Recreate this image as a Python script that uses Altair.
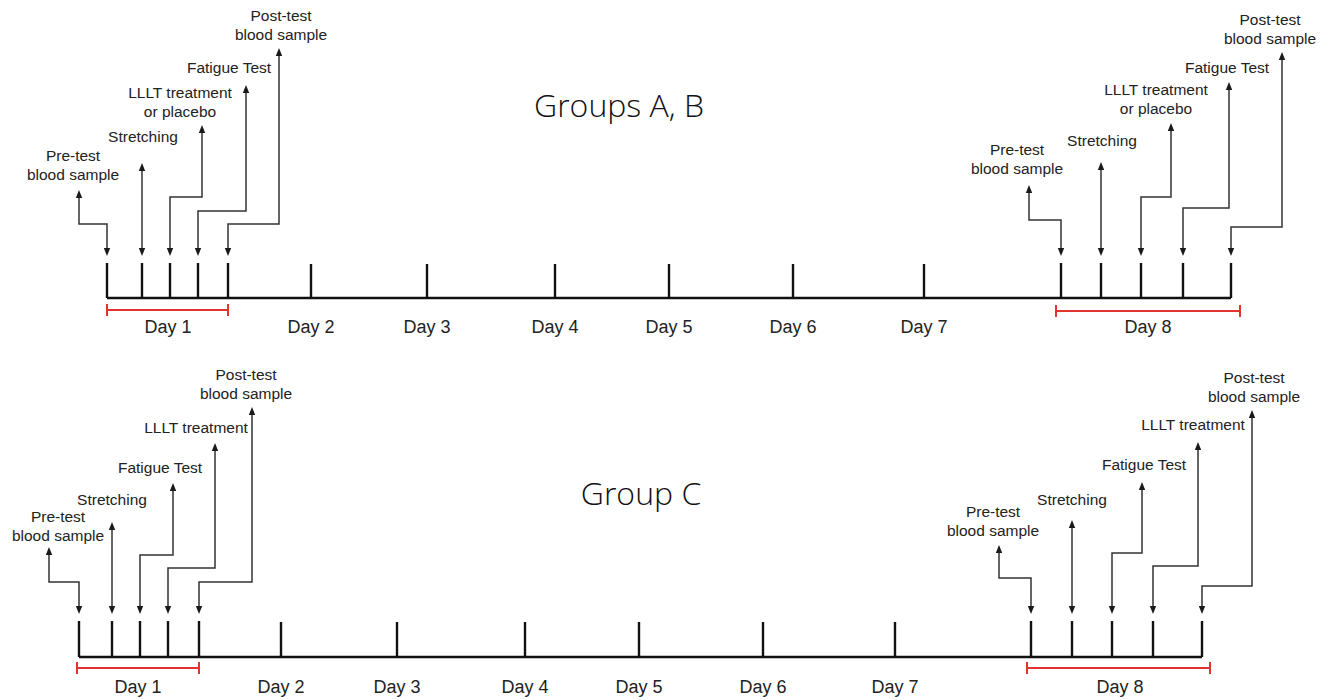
import altair as alt
import pandas as pd

# ---------------- data (pixel positions) ----------------
DAY_NAMES = ["Day 1", "Day 2", "Day 3", "Day 4", "Day 5", "Day 6", "Day 7", "Day 8"]

EVENTS_AB = ["Pre-test\nblood sample", "Stretching", "LLLT treatment\nor placebo",
             "Fatigue Test", "Post-test\nblood sample"]
EVENTS_C = ["Pre-test\nblood sample", "Stretching", "Fatigue Test",
            "LLLT treatment", "Post-test\nblood sample"]

# panel Groups A, B
ab_title = "Groups A, B"
ab_title_pos = (619, 117)
ab_axis_y = 298
ab_tick_top = 263
ab_mid_ticks = [311, 427, 555, 669, 793, 924]           # Day 2 .. Day 7
ab_day_label_x = [168, 311, 427, 555, 669, 793, 924, 1148]
ab_day_label_y = 328
ab_bracket_1 = (107, 228, 310)
ab_bracket_8 = (1056, 1240, 311)

ab1_tick_x = [107, 142, 170, 198, 228]
ab1_elbow_y = [224, None, 197, 211, 224]
ab1_stem_x = [79, 142, 202, 246, 279]
ab1_tip_y = [190, 163, 125, 85, 48]
ab1_label_x = [73, 143, 180, 229, 281]
ab1_label_y = [156, 137, 93, 68, 16]

ab8_tick_x = [1061, 1101, 1141, 1183, 1231]
ab8_elbow_y = [220, None, 197, 208, 227]
ab8_stem_x = [1029, 1101, 1171, 1229, 1282]
ab8_tip_y = [185, 162, 123, 82, 52]
ab8_label_x = [1017, 1102, 1156, 1227, 1270]
ab8_label_y = [150, 141, 90, 68, 20]

# panel Group C
c_title = "Group C"
c_title_pos = (641, 505)
c_axis_y = 657
c_tick_top = 621
c_mid_ticks = [281, 397, 525, 639, 763, 895]
c_day_label_x = [138, 281, 397, 525, 639, 763, 895, 1120]
c_day_label_y = 688
c_bracket_1 = (77, 199, 668)
c_bracket_8 = (1027, 1210, 668)

c1_tick_x = [79, 112, 140, 168, 199]
c1_elbow_y = [582, None, 555, 568, 582]
c1_stem_x = [49, 112, 173, 215, 252]
c1_tip_y = [547, 522, 483, 443, 407]
c1_label_x = [58, 112, 160, 196, 246]
c1_label_y = [517, 500, 468, 428, 375]

c8_tick_x = [1031, 1072, 1112, 1153, 1202]
c8_elbow_y = [578, None, 553, 566, 586]
c8_stem_x = [999, 1072, 1142, 1198, 1252]
c8_tip_y = [545, 520, 482, 442, 410]
c8_label_x = [993, 1072, 1144, 1193, 1254]
c8_label_y = [512, 500, 465, 425, 378]

LINE_H = 19

# ---------------- build tables ----------------
ticks, rules_h, brackets, caps = [], [], [], []
paths, heads_up, heads_down, labels, days, titles = [], [], [], [], [], []

def add_block(tag, names, tick_x, elbow_y, stem_x, tip_y, lab_x, lab_y, axis_y, tick_top):
    for i, name in enumerate(names):
        pid = f"{tag}{i}"
        tx = tick_x[i]
        down_tip = tick_top - 7
        ticks.append({"x": tx, "y": tick_top, "y2": axis_y})
        pts = [(stem_x[i], tip_y[i] + 3)]
        if elbow_y[i] is not None:
            pts += [(stem_x[i], elbow_y[i]), (tx, elbow_y[i])]
        pts += [(tx, down_tip - 3)]
        for k, (px, py) in enumerate(pts):
            paths.append({"id": pid, "ord": k, "x": px, "y": py})
        heads_up.append({"x": stem_x[i], "y": tip_y[i]})
        heads_down.append({"x": tx, "y": down_tip})
        for j, line in enumerate(name.split("\n")):
            labels.append({"x": lab_x[i], "y": lab_y[i] + j * LINE_H, "t": line})

def add_panel(tag, title, tpos, axis_y, tick_top, mid, dlx, dly, b1, b8, blocks):
    titles.append({"x": tpos[0], "y": tpos[1], "t": title})
    for b in blocks:
        add_block(*b, axis_y, tick_top)
    first = blocks[0][2][0]
    last = blocks[-1][2][-1]
    rules_h.append({"x": first, "x2": last, "y": axis_y})
    for m in mid:
        ticks.append({"x": m, "y": tick_top + 1, "y2": axis_y})
    for name, x in zip(DAY_NAMES, dlx):
        days.append({"x": x, "y": dly, "t": name})
    for (xa, xb, yy) in (b1, b8):
        brackets.append({"x": xa, "x2": xb, "y": yy})
        caps.append({"x": xa, "y": yy - 6, "y2": yy + 6})
        caps.append({"x": xb, "y": yy - 6, "y2": yy + 6})

add_panel("ab", ab_title, ab_title_pos, ab_axis_y, ab_tick_top, ab_mid_ticks,
          ab_day_label_x, ab_day_label_y, ab_bracket_1, ab_bracket_8,
          [("ab1", EVENTS_AB, ab1_tick_x, ab1_elbow_y, ab1_stem_x, ab1_tip_y, ab1_label_x, ab1_label_y),
           ("ab8", EVENTS_AB, ab8_tick_x, ab8_elbow_y, ab8_stem_x, ab8_tip_y, ab8_label_x, ab8_label_y)])
add_panel("c", c_title, c_title_pos, c_axis_y, c_tick_top, c_mid_ticks,
          c_day_label_x, c_day_label_y, c_bracket_1, c_bracket_8,
          [("c1", EVENTS_C, c1_tick_x, c1_elbow_y, c1_stem_x, c1_tip_y, c1_label_x, c1_label_y),
           ("c8", EVENTS_C, c8_tick_x, c8_elbow_y, c8_stem_x, c8_tip_y, c8_label_x, c8_label_y)])

# ---------------- chart ----------------
XS = alt.Scale(domain=[8, 1321], nice=False, zero=False)
YS = alt.Scale(domain=[8, 700], nice=False, zero=False, reverse=True)
X = lambda f="x": alt.X(f"{f}:Q", scale=XS, axis=None)
Y = lambda f="y": alt.Y(f"{f}:Q", scale=YS, axis=None)

LABEL_FONT = "Liberation Sans"
INK = "#222222"
RED = "#e0342c"

tick_layer = alt.Chart(pd.DataFrame(ticks)).mark_rule(color="#111", strokeWidth=2.4).encode(
    x=X(), y=Y(), y2="y2:Q")
axis_layer = alt.Chart(pd.DataFrame(rules_h)).mark_rule(color="#111", strokeWidth=2.4).encode(
    x=X(), x2="x2:Q", y=Y())
bracket_layer = alt.Chart(pd.DataFrame(brackets)).mark_rule(color=RED, strokeWidth=2).encode(
    x=X(), x2="x2:Q", y=Y())
cap_layer = alt.Chart(pd.DataFrame(caps)).mark_rule(color=RED, strokeWidth=2).encode(
    x=X(), y=Y(), y2="y2:Q")
path_layer = alt.Chart(pd.DataFrame(paths)).mark_line(
    color="#333", strokeWidth=1.5, strokeJoin="miter").encode(
    x=X(), y=Y(), detail="id:N", order="ord:Q")
up_layer = alt.Chart(pd.DataFrame(heads_up)).mark_point(
    shape="M-0.8,2L0.8,2L0,0Z", size=64, filled=True, color="#1a1a1a", opacity=1).encode(
    x=X(), y=Y())
down_layer = alt.Chart(pd.DataFrame(heads_down)).mark_point(
    shape="M-0.8,-2L0.8,-2L0,0Z", size=64, filled=True, color="#1a1a1a", opacity=1).encode(
    x=X(), y=Y())
label_layer = alt.Chart(pd.DataFrame(labels)).mark_text(
    font=LABEL_FONT, fontSize=15.5, color=INK, align="center", baseline="middle").encode(
    x=X(), y=Y(), text="t:N")
day_layer = alt.Chart(pd.DataFrame(days)).mark_text(
    font=LABEL_FONT, fontSize=18, color=INK, align="center", baseline="middle").encode(
    x=X(), y=Y(), text="t:N")
title_layer = alt.Chart(pd.DataFrame(titles)).mark_text(
    font="Open Sans", fontWeight=300, fontSize=32, color="#111", align="center",
    baseline="alphabetic").encode(x=X(), y=Y(), text="t:N")

chart = alt.layer(
    path_layer, up_layer, down_layer, tick_layer, axis_layer, bracket_layer, cap_layer,
    label_layer, day_layer, title_layer
).properties(
    width=1313, height=692, padding=0, autosize=alt.AutoSizeParams(type="none"),
    background="white"
).configure_view(stroke=None)

chart.save("out.html", embed_options={"renderer": "svg", "actions": False})
